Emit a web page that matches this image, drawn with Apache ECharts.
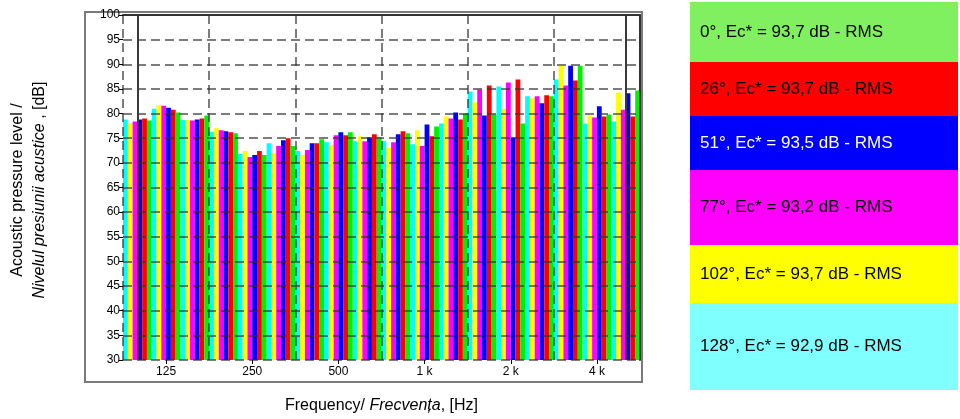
<!DOCTYPE html>
<html><head><meta charset="utf-8">
<script src="https://cdn.jsdelivr.net/npm/echarts@6/dist/echarts.min.js"></script>
<style>html,body{margin:0;padding:0;background:#fff}#c{width:960px;height:419px}</style>
</head><body><div id="c"></div>
<script>
// 1/3-octave band centre frequencies
const categories = ['100','125','160','200','250','315','400','500','630','800','1 k','1.25 k','1.6 k','2 k','2.5 k','3.15 k','4 k','5 k'];
const shownLabels = ['125','250','500','1 k','2 k','4 k'];
// series (bar order left→right inside each band)
const s128 = [78.8, 81.0, 78.7, 76.3, 71.8, 74.0, 72.4, 74.2, 74.4, 74.4, 73.8, 78.0, 84.5, 85.5, 83.5, 86.9, 78.0, 78.4];
const s102 = [78.1, 81.7, 78.7, 77.0, 72.4, 72.0, 71.6, 73.6, 75.4, 73.0, 76.6, 79.4, 82.3, 81.0, 83.1, 89.7, 79.6, 84.3];
const s77  = [78.4, 81.6, 78.6, 76.6, 71.2, 73.4, 72.6, 75.6, 74.4, 74.2, 73.4, 79.0, 84.9, 86.3, 83.5, 85.7, 79.2, 80.8];
const s51  = [78.8, 81.2, 78.8, 76.4, 71.6, 74.6, 74.0, 76.2, 75.2, 75.8, 77.8, 80.2, 79.6, 75.2, 82.1, 89.7, 81.5, 84.1];
const s26  = [79.0, 80.8, 79.0, 76.2, 72.4, 75.0, 74.0, 75.6, 75.8, 76.4, 75.4, 78.8, 85.7, 86.9, 83.7, 86.7, 79.4, 79.4];
const s0   = [78.6, 80.2, 79.6, 76.0, 71.6, 73.4, 74.8, 76.2, 75.2, 76.0, 77.4, 80.0, 79.8, 78.0, 83.5, 89.7, 79.8, 84.7];
const seriesNames = ['128°','102°','77°','51°','26°','0°'];
const seriesData = [s128, s102, s77, s51, s26, s0];
const barColors = ['#00FFFF','#FFFF00','#FF00FF','#0000FF','#FF0000','#00F000'];
// legend boxes (top to bottom)
const legendLabels = ['0°, Ec* = 93,7 dB - RMS','26°, Ec* = 93,7 dB - RMS','51°, Ec* = 93,5 dB - RMS','77°, Ec* = 93,2 dB - RMS','102°, Ec* = 93,7 dB - RMS','128°, Ec* = 92,9 dB - RMS'];
const legendColors = ['#80F060','#FF0000','#0000FF','#FF00FF','#FFFF00','#80FFFF'];
const legendTextColors = ['#000','#000','#fff','#000','#000','#000'];
const legendEdges = [2, 62, 116, 170, 245, 303, 390];
const cursorBands = ['100','5 k'];
const yMin = 30, yMax = 100, yStep = 5;

const FONT = '"Liberation Sans", Arial, sans-serif';
const chart = echarts.init(document.getElementById('c'), null, {renderer:'canvas'});

const series = seriesData.map((d, i) => ({
  name: seriesNames[i], type: 'bar', data: d,
  barGap: '0%', barCategoryGap: '0%',
  itemStyle: {color: barColors[i]},
  silent: true, animation: false
}));
// cursor lines at band centres
series.push({
  name: 'cursor', type: 'line', data: [], silent: true, z: 6,
  markLine: {
    silent: true, symbol: ['none','none'], label: {show:false},
    lineStyle: {type:'solid', color:'#3a3a3a', width:2},
    data: cursorBands.map(b => ({xAxis: b}))
  }
});

const legendGraphics = [];
legendLabels.forEach((t, i) => {
  const y0 = legendEdges[i], y1 = legendEdges[i+1];
  legendGraphics.push({type:'rect', shape:{x:690, y:y0, width:268, height:y1-y0}, style:{fill:legendColors[i]}, silent:true});
  legendGraphics.push({type:'text', x:700, y:(y0+y1)/2, style:{text:t, fill:legendTextColors[i], font:'17px ' + FONT, textVerticalAlign:'middle', textAlign:'left'}, silent:true});
});

const dashed = {type:[9,5], color:'#333', width:1.5, opacity:0.85};

chart.setOption({
  animation: false,
  backgroundColor: '#fff',
  textStyle: {fontFamily: FONT},
  grid: {left:123, top:15, width:517, height:348, show:false},
  xAxis: [{
    type:'category', data: categories, position:'bottom', boundaryGap:true, z:5,
    axisLine:{show:false},
    axisTick:{show:true, alignWithLabel:true, length:4, lineStyle:{color:'#000'},
      interval:(i, v) => shownLabels.includes(v)},
    axisLabel:{color:'#000', fontSize:12, margin:6, interval:(i, v) => shownLabels.includes(v)},
    splitLine:{show:true, interval:(i) => i % 3 === 0, lineStyle: dashed},
    name:'{a|Frequency/ }{b|Frecvența}{a|, [Hz]}', nameLocation:'middle', nameGap:38,
    nameTextStyle:{rich:{a:{fontSize:16, color:'#000', fontFamily:FONT}, b:{fontSize:16, color:'#000', fontStyle:'italic', fontFamily:FONT}}}
  },{
    type:'category', data: categories, position:'top', z:5,
    axisLine:{show:true, lineStyle:{color:'#333', width:2}},
    axisTick:{show:false}, axisLabel:{show:false}, splitLine:{show:false}
  }],
  yAxis: [{
    type:'value', min:yMin, max:yMax, interval:yStep, position:'left', z:5,
    axisLine:{show:false},
    axisTick:{show:true, length:4, lineStyle:{color:'#000'}},
    axisLabel:{color:'#000', fontSize:12, margin:3},
    splitLine:{show:true, lineStyle: dashed}
  },{
    type:'value', min:yMin, max:yMax, interval:yStep, position:'right', z:5,
    axisLine:{show:true, lineStyle:{color:'#333', width:2}},
    axisTick:{show:false}, axisLabel:{show:false}, splitLine:{show:false}
  }],
  series: series,
  graphic: [
    {type:'rect', shape:{x:85, y:12, width:557, height:370}, style:{fill:'none', stroke:'#7a7a7a', lineWidth:2}, silent:true, z:-1},
    {type:'text', x:29, y:190, rotation:Math.PI/2, silent:true,
      style:{text:'{a|Acoustic pressure level /}\n{b|Nivelul presiunii acustice}{a| , [dB]}', textAlign:'center', textVerticalAlign:'middle',
        rich:{a:{fontSize:16, fill:'#000', fontFamily:FONT, lineHeight:22}, b:{fontSize:16, fill:'#000', fontStyle:'italic', fontFamily:FONT, lineHeight:22}}}},
    ...legendGraphics
  ]
});
</script>
</body></html>
